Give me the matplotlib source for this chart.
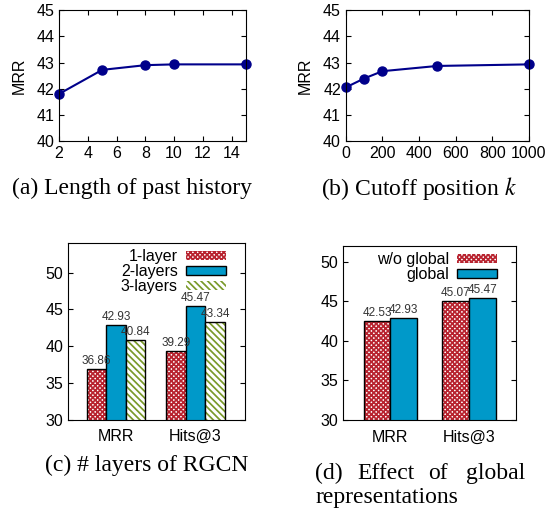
import numpy as np
import matplotlib
matplotlib.use("Agg")
import matplotlib.pyplot as plt
from matplotlib.patches import Patch

plt.rcParams['font.family'] = ['Liberation Sans', 'DejaVu Sans']
plt.rcParams['hatch.linewidth'] = 1.25
plt.rcParams['mathtext.fontset'] = 'stix'

# data
hist_len = [2, 5, 8, 10, 15]
hist_mrr = [41.8, 42.72, 42.9, 42.93, 42.93]
cutoff_k = [0, 100, 200, 500, 1000]
cutoff_mrr = [42.05, 42.39, 42.67, 42.87, 42.93]
metrics = ["MRR", "Hits@3"]
layer_names = ["1-layer", "2-layers", "3-layers"]
layer_vals = [[36.86, 39.29], [42.93, 45.47], [40.84, 43.34]]
glob_names = ["w/o global", "global"]
glob_vals = [[42.53, 45.07], [42.93, 45.47]]

navy = '#00008b'
red = '#b8232f'
blue = '#0099c9'
green = '#7a9a2a'

fig = plt.figure(figsize=(5.48, 5.11), dpi=100)

def box_style(ax):
    ax.tick_params(direction='in', top=True, right=True, labelsize=11.5, length=3.5, width=0.8)
    for s in ax.spines.values():
        s.set_linewidth(0.8)

# (a)
ax1 = fig.add_axes([0.1077, 0.724, 0.3413, 0.256])
ax1.plot(hist_len, hist_mrr, color=navy, lw=1.5, marker='o', ms=6.5, clip_on=False)
ax1.set_xlim(2, 15)
ax1.set_ylim(40, 45)
ax1.set_xticks([2, 4, 6, 8, 10, 12, 14])
ax1.set_yticks([40, 41, 42, 43, 44, 45])
ax1.set_ylabel('MRR', fontsize=11.5, labelpad=7)
box_style(ax1)

# (b)
ax2 = fig.add_axes([0.631, 0.724, 0.334, 0.256])
ax2.plot(cutoff_k, cutoff_mrr, color=navy, lw=1.5, marker='o', ms=6.5, clip_on=False)
ax2.set_xlim(0, 1000)
ax2.set_ylim(40, 45)
ax2.set_xticks([0, 200, 400, 600, 800, 1000])
ax2.set_yticks([40, 41, 42, 43, 44, 45])
ax2.set_ylabel('MRR', fontsize=11.5, labelpad=7)
box_style(ax2)


def hatched_bars(ax, x, vals, w, fc, hatch, hc):
    if hatch:
        ax.bar(x, vals, w, color='white', edgecolor=hc, hatch=hatch, lw=0)
        ax.bar(x, vals, w, color='none', edgecolor='black', lw=1.0)
    else:
        ax.bar(x, vals, w, color=fc, edgecolor='black', lw=1.0)


def labels(ax, x, vals):
    for xi, v in zip(x, vals):
        ax.text(xi, v + 0.25, f'{v:.2f}', ha='center', va='bottom', fontsize=8.5, color='#333333')

styles = [('white', 'xxxxxxx', red), (blue, None, None), ('white', '\\\\\\\\\\', green)]

def leg_handles(n):
    hs = []
    for i in range(n):
        fc, h, hc = styles[i]
        if h:
            hs.append(Patch(facecolor='white', edgecolor=hc, hatch=h, lw=0))
        else:
            hs.append(Patch(facecolor=fc, edgecolor='black', lw=1))
    return hs

leg_kw = dict(loc='upper right', frameon=False, markerfirst=False, fontsize=11.5,
              handlelength=2.5, handleheight=0.5, labelspacing=0.0,
              borderaxespad=0.0, handletextpad=0.5, borderpad=0.2)

# (c)
ax3 = fig.add_axes([0.1246, 0.179, 0.3224, 0.345])
xs = np.arange(len(metrics))
w = 0.245
for i, vals in enumerate(layer_vals):
    fc, h, hc = styles[i]
    x = xs + (i - 1) * w
    hatched_bars(ax3, x, vals, w, fc, h, hc)
    labels(ax3, x, vals)
ax3.set_xlim(-0.6, 1.62)
ax3.set_ylim(30, 54)
ax3.set_yticks([30, 35, 40, 45, 50])
ax3.set_xticks(xs)
ax3.set_xticklabels(metrics)
box_style(ax3)
ax3.tick_params(axis='x', length=0, pad=7)
ax3.legend(leg_handles(3), layer_names, bbox_to_anchor=(1 - 16 / 176.7, 1 - 3 / 176), **leg_kw)

# (d)
ax4 = fig.add_axes([0.6265, 0.178, 0.3151, 0.341])
w2 = 0.34
for i, vals in enumerate(glob_vals):
    fc, h, hc = styles[i]
    x = xs + (i - 0.5) * w2
    hatched_bars(ax4, x, vals, w2, fc, h, hc)
    labels(ax4, x, vals)
ax4.set_xlim(-0.6, 1.6)
ax4.set_ylim(30, 52)
ax4.set_yticks([30, 35, 40, 45, 50])
ax4.set_xticks(xs)
ax4.set_xticklabels(metrics)
box_style(ax4)
ax4.tick_params(axis='x', length=0, pad=7)
ax4.legend(leg_handles(2), glob_names, bbox_to_anchor=(1 - 16 / 172.7, 1 - 3 / 174), **leg_kw)

# captions
cap = dict(family=['Liberation Serif', 'DejaVu Serif'], fontsize=17, va='center')
fig.text(132 / 548, 1 - 188 / 511, '(a) Length of past history', ha='center', **cap)
fig.text(419 / 548, 1 - 188 / 511, '(b) Cutoff position $k$', ha='center', **cap)
fig.text(147 / 548, 1 - 465 / 511, '(c) # layers of RGCN', ha='center', **cap)
fig.text(315 / 548, 1 - 473 / 511, '(d)', ha='left', **cap)
fig.text(357 / 548, 1 - 473 / 511, 'Effect', ha='left', **cap)
fig.text(428 / 548, 1 - 473 / 511, 'of', ha='left', **cap)
fig.text(525 / 548, 1 - 473 / 511, 'global', ha='right', **cap)
fig.text(315 / 548, 1 - 497 / 511, 'representations', ha='left', **cap)

fig.savefig('out.png', dpi=100)
